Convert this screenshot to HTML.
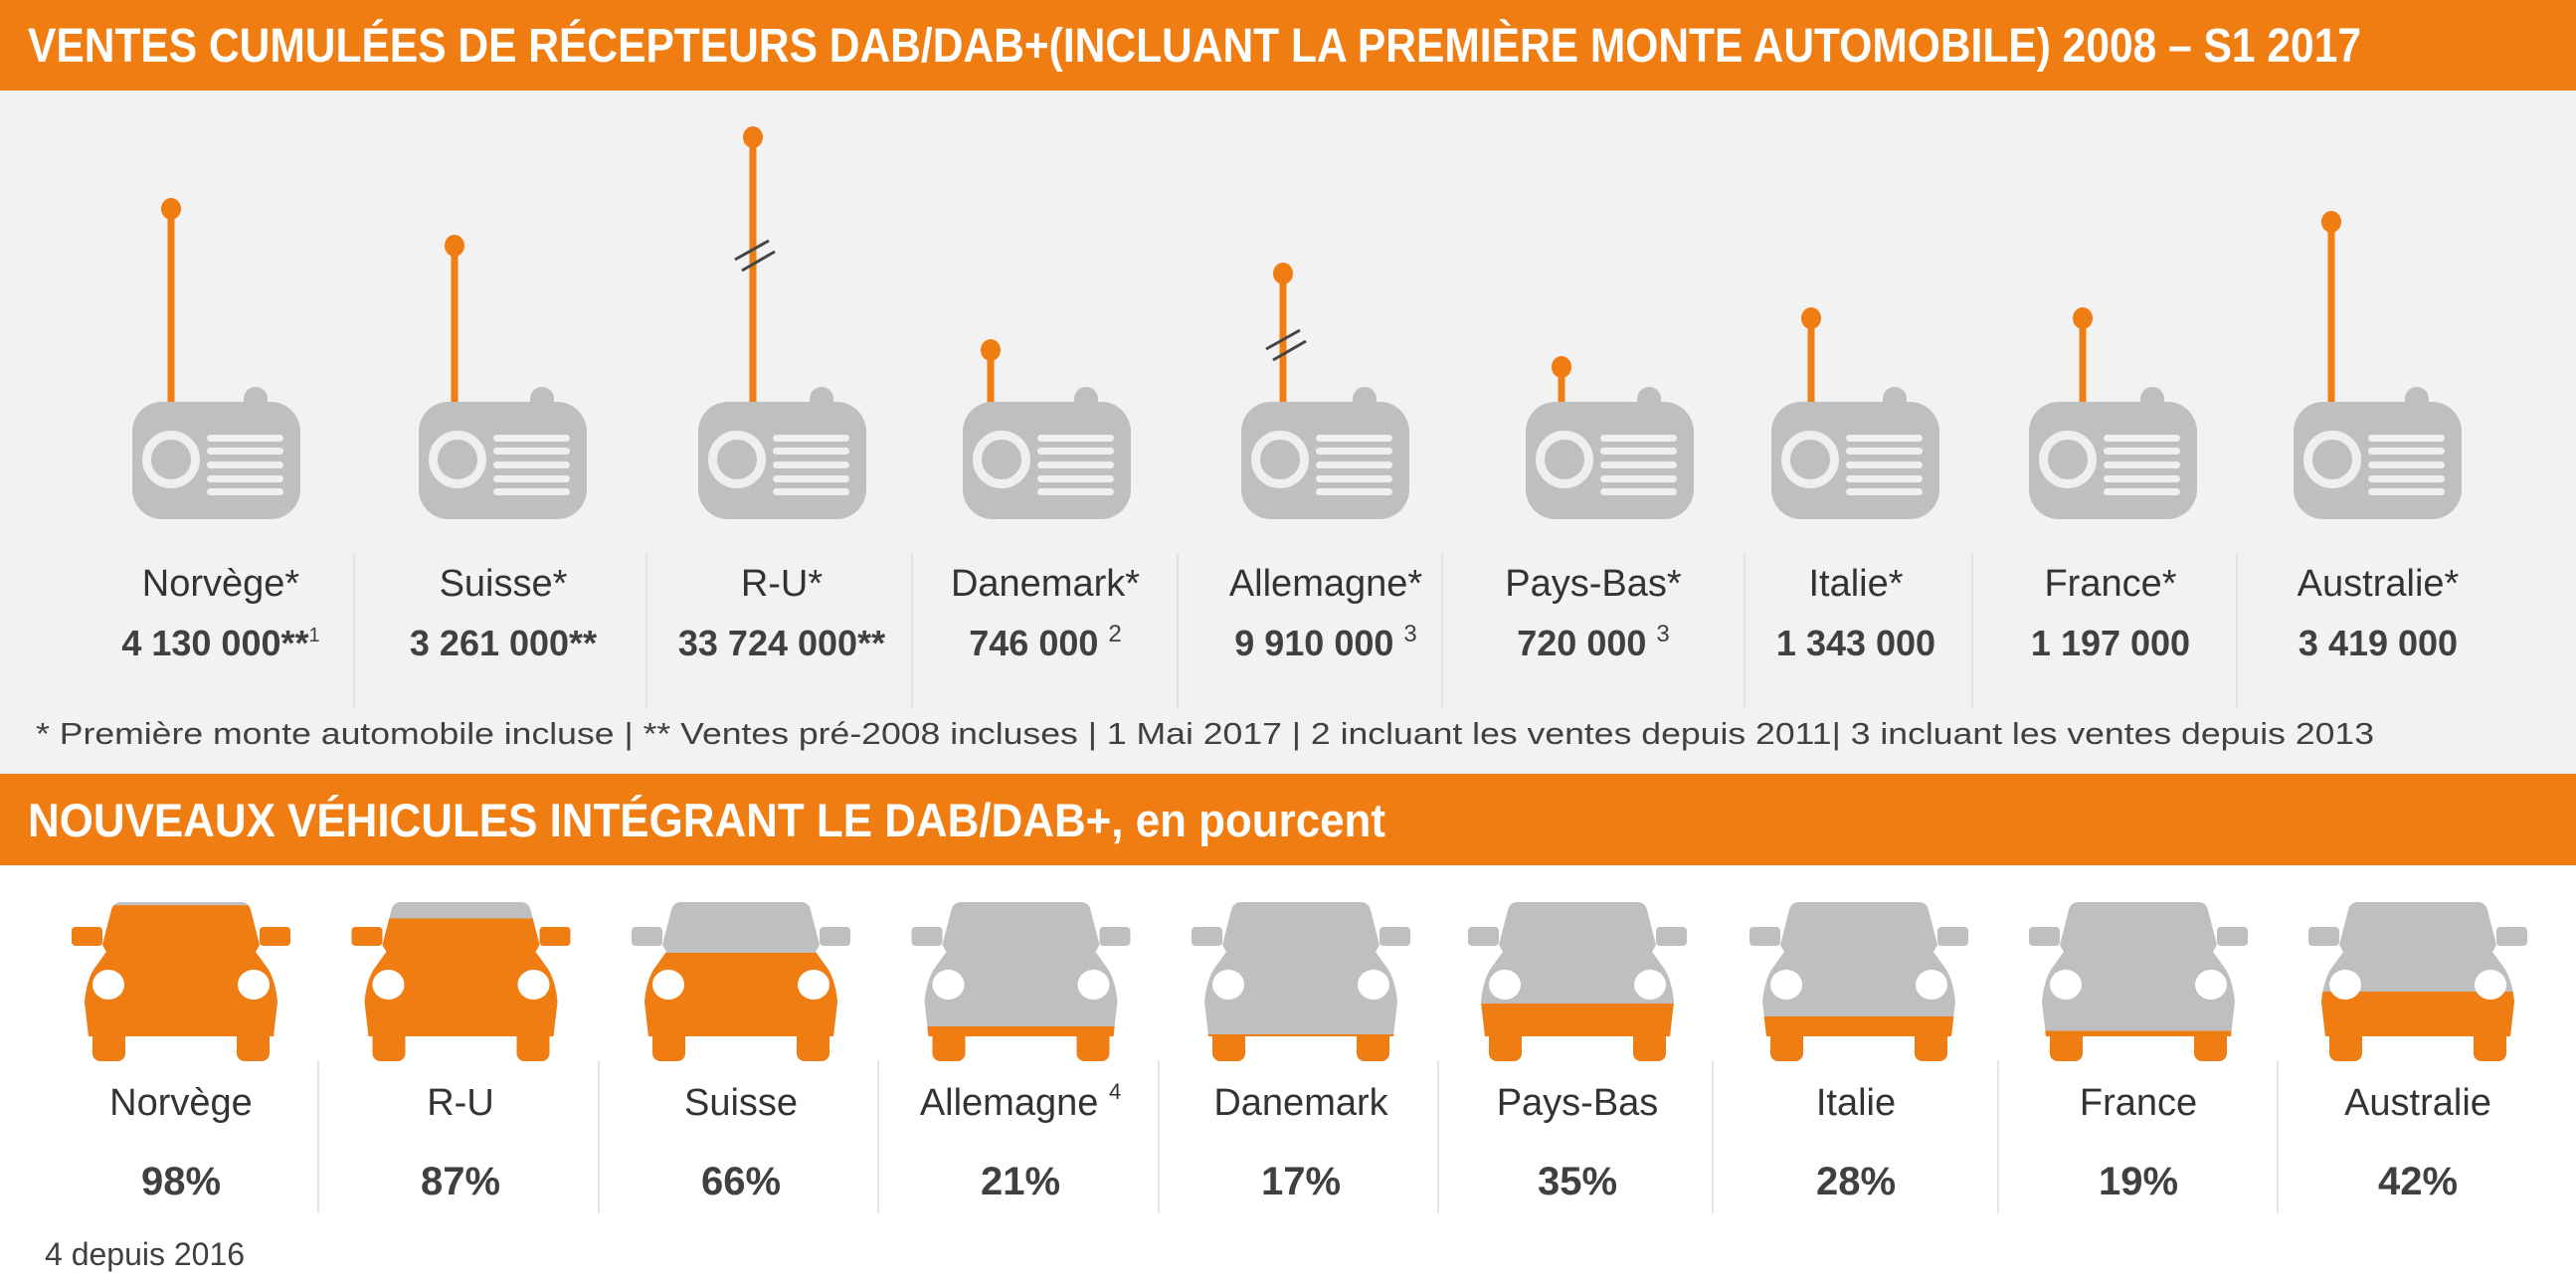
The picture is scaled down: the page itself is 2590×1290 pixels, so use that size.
<!DOCTYPE html>
<html><head><meta charset="utf-8"><style>
html,body{margin:0;padding:0;background:#fff}
svg{display:block}
text{font-family:"Liberation Sans",sans-serif}
</style></head><body>
<svg width="2590" height="1290" viewBox="0 0 2590 1290" xmlns="http://www.w3.org/2000/svg">
<defs>
<g id="radio">
  <rect x="112" y="-15" width="24" height="30" rx="12" fill="#BFBFBF"/>
  <rect x="0" y="0" width="169" height="118" rx="30" fill="#BFBFBF"/>
  <circle cx="39" cy="58" r="24.5" fill="none" stroke="#EFEFEF" stroke-width="9"/>
  <rect x="75" y="33" width="77" height="7" rx="3.5" fill="#EFEFEF"/>
  <rect x="75" y="46" width="77" height="7" rx="3.5" fill="#EFEFEF"/>
  <rect x="75" y="60" width="77" height="7" rx="3.5" fill="#EFEFEF"/>
  <rect x="75" y="74" width="77" height="7" rx="3.5" fill="#EFEFEF"/>
  <rect x="75" y="87" width="77" height="7" rx="3.5" fill="#EFEFEF"/>
</g>
<g id="carshape">
  <path d="M -60 0 L 60 0 Q 68 0 70 8 L 79 43 L 75 50 L 88 68 Q 95 80 97 100 L 93 135 L -93 135 L -97 100 Q -95 80 -88 68 L -75 50 L -79 43 L -70 8 Q -68 0 -60 0 Z"/>
  <rect x="-110" y="25" width="31" height="19" rx="4"/>
  <rect x="79" y="25" width="31" height="19" rx="4"/>
  <rect x="-89" y="120" width="33" height="40" rx="8"/>
  <rect x="56" y="120" width="33" height="40" rx="8"/>
</g>
<g id="lights">
  <ellipse cx="-73" cy="83" rx="16" ry="15" fill="#fff"/>
  <ellipse cx="73" cy="83" rx="16" ry="15" fill="#fff"/>
</g>
<clipPath id="c98"><rect x="-120" y="3.2" width="240" height="200"/></clipPath>
<clipPath id="c87"><rect x="-120" y="16.5" width="240" height="200"/></clipPath>
<clipPath id="c66"><rect x="-120" y="51" width="240" height="200"/></clipPath>
<clipPath id="c21"><rect x="-120" y="125" width="240" height="200"/></clipPath>
<clipPath id="c17"><rect x="-120" y="133" width="240" height="200"/></clipPath>
<clipPath id="c35"><rect x="-120" y="102" width="240" height="200"/></clipPath>
<clipPath id="c28"><rect x="-120" y="115" width="240" height="200"/></clipPath>
<clipPath id="c19"><rect x="-120" y="129.5" width="240" height="200"/></clipPath>
<clipPath id="c42"><rect x="-120" y="90" width="240" height="200"/></clipPath>
</defs>

<!-- backgrounds -->
<rect x="0" y="0" width="2590" height="91" fill="#F07D12"/>
<rect x="0" y="91" width="2590" height="687" fill="#F2F2F2"/>
<rect x="0" y="778" width="2590" height="92" fill="#F07D12"/>
<rect x="0" y="870" width="2590" height="420" fill="#fff"/>

<text x="28" y="62" font-size="48" font-weight="bold" fill="#fff" textLength="2346" lengthAdjust="spacingAndGlyphs">VENTES CUMULÉES DE RÉCEPTEURS DAB/DAB+(INCLUANT LA PREMIÈRE MONTE AUTOMOBILE) 2008 – S1 2017</text>
<text x="28" y="841" font-size="47" font-weight="bold" fill="#fff" textLength="1365" lengthAdjust="spacingAndGlyphs">NOUVEAUX VÉHICULES INTÉGRANT LE  DAB/DAB+, en pourcent</text>

<!-- antennas -->
<g fill="#F07D12">
  <rect x="168.5" y="210" width="7" height="196"/><ellipse cx="172" cy="210" rx="10" ry="11"/>
  <rect x="453.5" y="247" width="7" height="159"/><ellipse cx="457" cy="247" rx="10" ry="11"/>
  <rect x="753.5" y="138" width="7" height="268"/><ellipse cx="757" cy="138" rx="10" ry="11"/>
  <rect x="992.5" y="352" width="7" height="54"/><ellipse cx="996" cy="352" rx="10" ry="11"/>
  <rect x="1286.5" y="275" width="7" height="131"/><ellipse cx="1290" cy="275" rx="10" ry="11"/>
  <rect x="1566.5" y="369" width="7" height="37"/><ellipse cx="1570" cy="369" rx="10" ry="11"/>
  <rect x="1817.5" y="320" width="7" height="86"/><ellipse cx="1821" cy="320" rx="10" ry="11"/>
  <rect x="2090.5" y="320" width="7" height="86"/><ellipse cx="2094" cy="320" rx="10" ry="11"/>
  <rect x="2340.5" y="223" width="7" height="183"/><ellipse cx="2344" cy="223" rx="10" ry="11"/>
</g>
<g stroke="#444" stroke-width="3">
  <line x1="739" y1="261" x2="773" y2="242"/><line x1="746" y1="272" x2="779" y2="253"/>
  <line x1="1273" y1="351" x2="1307" y2="332"/><line x1="1280" y1="362" x2="1313" y2="343"/>
</g>

<use href="#radio" x="133" y="404"/>
<use href="#radio" x="421" y="404"/>
<use href="#radio" x="702" y="404"/>
<use href="#radio" x="968" y="404"/>
<use href="#radio" x="1248" y="404"/>
<use href="#radio" x="1534" y="404"/>
<use href="#radio" x="1781" y="404"/>
<use href="#radio" x="2040" y="404"/>
<use href="#radio" x="2306" y="404"/>

<!-- top separators -->
<g stroke="#DDDDDD" stroke-width="1.5">
  <line x1="356" y1="557" x2="356" y2="712"/><line x1="650" y1="557" x2="650" y2="712"/>
  <line x1="917" y1="557" x2="917" y2="712"/><line x1="1184" y1="557" x2="1184" y2="712"/>
  <line x1="1450" y1="557" x2="1450" y2="712"/><line x1="1754" y1="557" x2="1754" y2="712"/>
  <line x1="1983" y1="557" x2="1983" y2="712"/><line x1="2249" y1="557" x2="2249" y2="712"/>
</g>

<g font-size="38" fill="#333" text-anchor="middle">
  <text x="222" y="599">Norvège*</text>
  <text x="506" y="599">Suisse*</text>
  <text x="786" y="599">R-U*</text>
  <text x="1051" y="599">Danemark*</text>
  <text x="1333" y="599">Allemagne*</text>
  <text x="1602" y="599">Pays-Bas*</text>
  <text x="1866" y="599">Italie*</text>
  <text x="2122" y="599">France*</text>
  <text x="2391" y="599">Australie*</text>
</g>
<g font-size="36" font-weight="bold" fill="#404040" text-anchor="middle">
  <text x="222" y="659">4 130 000**<tspan font-size="20" font-weight="normal" dy="-14">1</tspan></text>
  <text x="506" y="659">3 261 000**</text>
  <text x="786" y="659">33 724 000**</text>
  <text x="1051" y="659">746 000 <tspan font-size="24" font-weight="normal" dy="-14">2</tspan></text>
  <text x="1333" y="659">9 910 000 <tspan font-size="24" font-weight="normal" dy="-14">3</tspan></text>
  <text x="1602" y="659">720 000 <tspan font-size="24" font-weight="normal" dy="-14">3</tspan></text>
  <text x="1866" y="659">1 343 000</text>
  <text x="2122" y="659">1 197 000</text>
  <text x="2391" y="659">3 419 000</text>
</g>
<text x="36" y="748" font-size="31" fill="#404040" textLength="2351" lengthAdjust="spacingAndGlyphs">* Première monte automobile incluse | ** Ventes pré-2008 incluses | 1 Mai 2017 | 2 incluant les ventes depuis 2011| 3 incluant les ventes depuis 2013</text>

<!-- cars -->
<g transform="translate(182,907)"><use href="#carshape" fill="#BFBFBF"/><g clip-path="url(#c98)"><use href="#carshape" fill="#F07D12"/></g><use href="#lights"/></g>
<g transform="translate(463.5,907)"><use href="#carshape" fill="#BFBFBF"/><g clip-path="url(#c87)"><use href="#carshape" fill="#F07D12"/></g><use href="#lights"/></g>
<g transform="translate(745,907)"><use href="#carshape" fill="#BFBFBF"/><g clip-path="url(#c66)"><use href="#carshape" fill="#F07D12"/></g><use href="#lights"/></g>
<g transform="translate(1026.5,907)"><use href="#carshape" fill="#BFBFBF"/><g clip-path="url(#c21)"><use href="#carshape" fill="#F07D12"/></g><use href="#lights"/></g>
<g transform="translate(1308,907)"><use href="#carshape" fill="#BFBFBF"/><g clip-path="url(#c17)"><use href="#carshape" fill="#F07D12"/></g><use href="#lights"/></g>
<g transform="translate(1586,907)"><use href="#carshape" fill="#BFBFBF"/><g clip-path="url(#c35)"><use href="#carshape" fill="#F07D12"/></g><use href="#lights"/></g>
<g transform="translate(1869,907)"><use href="#carshape" fill="#BFBFBF"/><g clip-path="url(#c28)"><use href="#carshape" fill="#F07D12"/></g><use href="#lights"/></g>
<g transform="translate(2150,907)"><use href="#carshape" fill="#BFBFBF"/><g clip-path="url(#c19)"><use href="#carshape" fill="#F07D12"/></g><use href="#lights"/></g>
<g transform="translate(2431,907)"><use href="#carshape" fill="#BFBFBF"/><g clip-path="url(#c42)"><use href="#carshape" fill="#F07D12"/></g><use href="#lights"/></g>

<g stroke="#DDDDDD" stroke-width="1.5">
  <line x1="320" y1="1066" x2="320" y2="1220"/><line x1="602" y1="1066" x2="602" y2="1220"/>
  <line x1="883" y1="1066" x2="883" y2="1220"/><line x1="1165" y1="1066" x2="1165" y2="1220"/>
  <line x1="1446" y1="1066" x2="1446" y2="1220"/><line x1="1722" y1="1066" x2="1722" y2="1220"/>
  <line x1="2009" y1="1066" x2="2009" y2="1220"/><line x1="2290" y1="1066" x2="2290" y2="1220"/>
</g>
<g font-size="38" fill="#333" text-anchor="middle">
  <text x="182" y="1121">Norvège</text>
  <text x="463" y="1121">R-U</text>
  <text x="745" y="1121">Suisse</text>
  <text x="1026" y="1121">Allemagne <tspan font-size="22" dy="-16">4</tspan></text>
  <text x="1308" y="1121">Danemark</text>
  <text x="1586" y="1121">Pays-Bas</text>
  <text x="1866" y="1121">Italie</text>
  <text x="2150" y="1121">France</text>
  <text x="2431" y="1121">Australie</text>
</g>
<g font-size="40" font-weight="bold" fill="#404040" text-anchor="middle">
  <text x="182" y="1201">98%</text>
  <text x="463" y="1201">87%</text>
  <text x="745" y="1201">66%</text>
  <text x="1026" y="1201">21%</text>
  <text x="1308" y="1201">17%</text>
  <text x="1586" y="1201">35%</text>
  <text x="1866" y="1201">28%</text>
  <text x="2150" y="1201">19%</text>
  <text x="2431" y="1201">42%</text>
</g>
<text x="45" y="1272" font-size="32" fill="#404040">4 depuis 2016</text>
</svg>
</body></html>
